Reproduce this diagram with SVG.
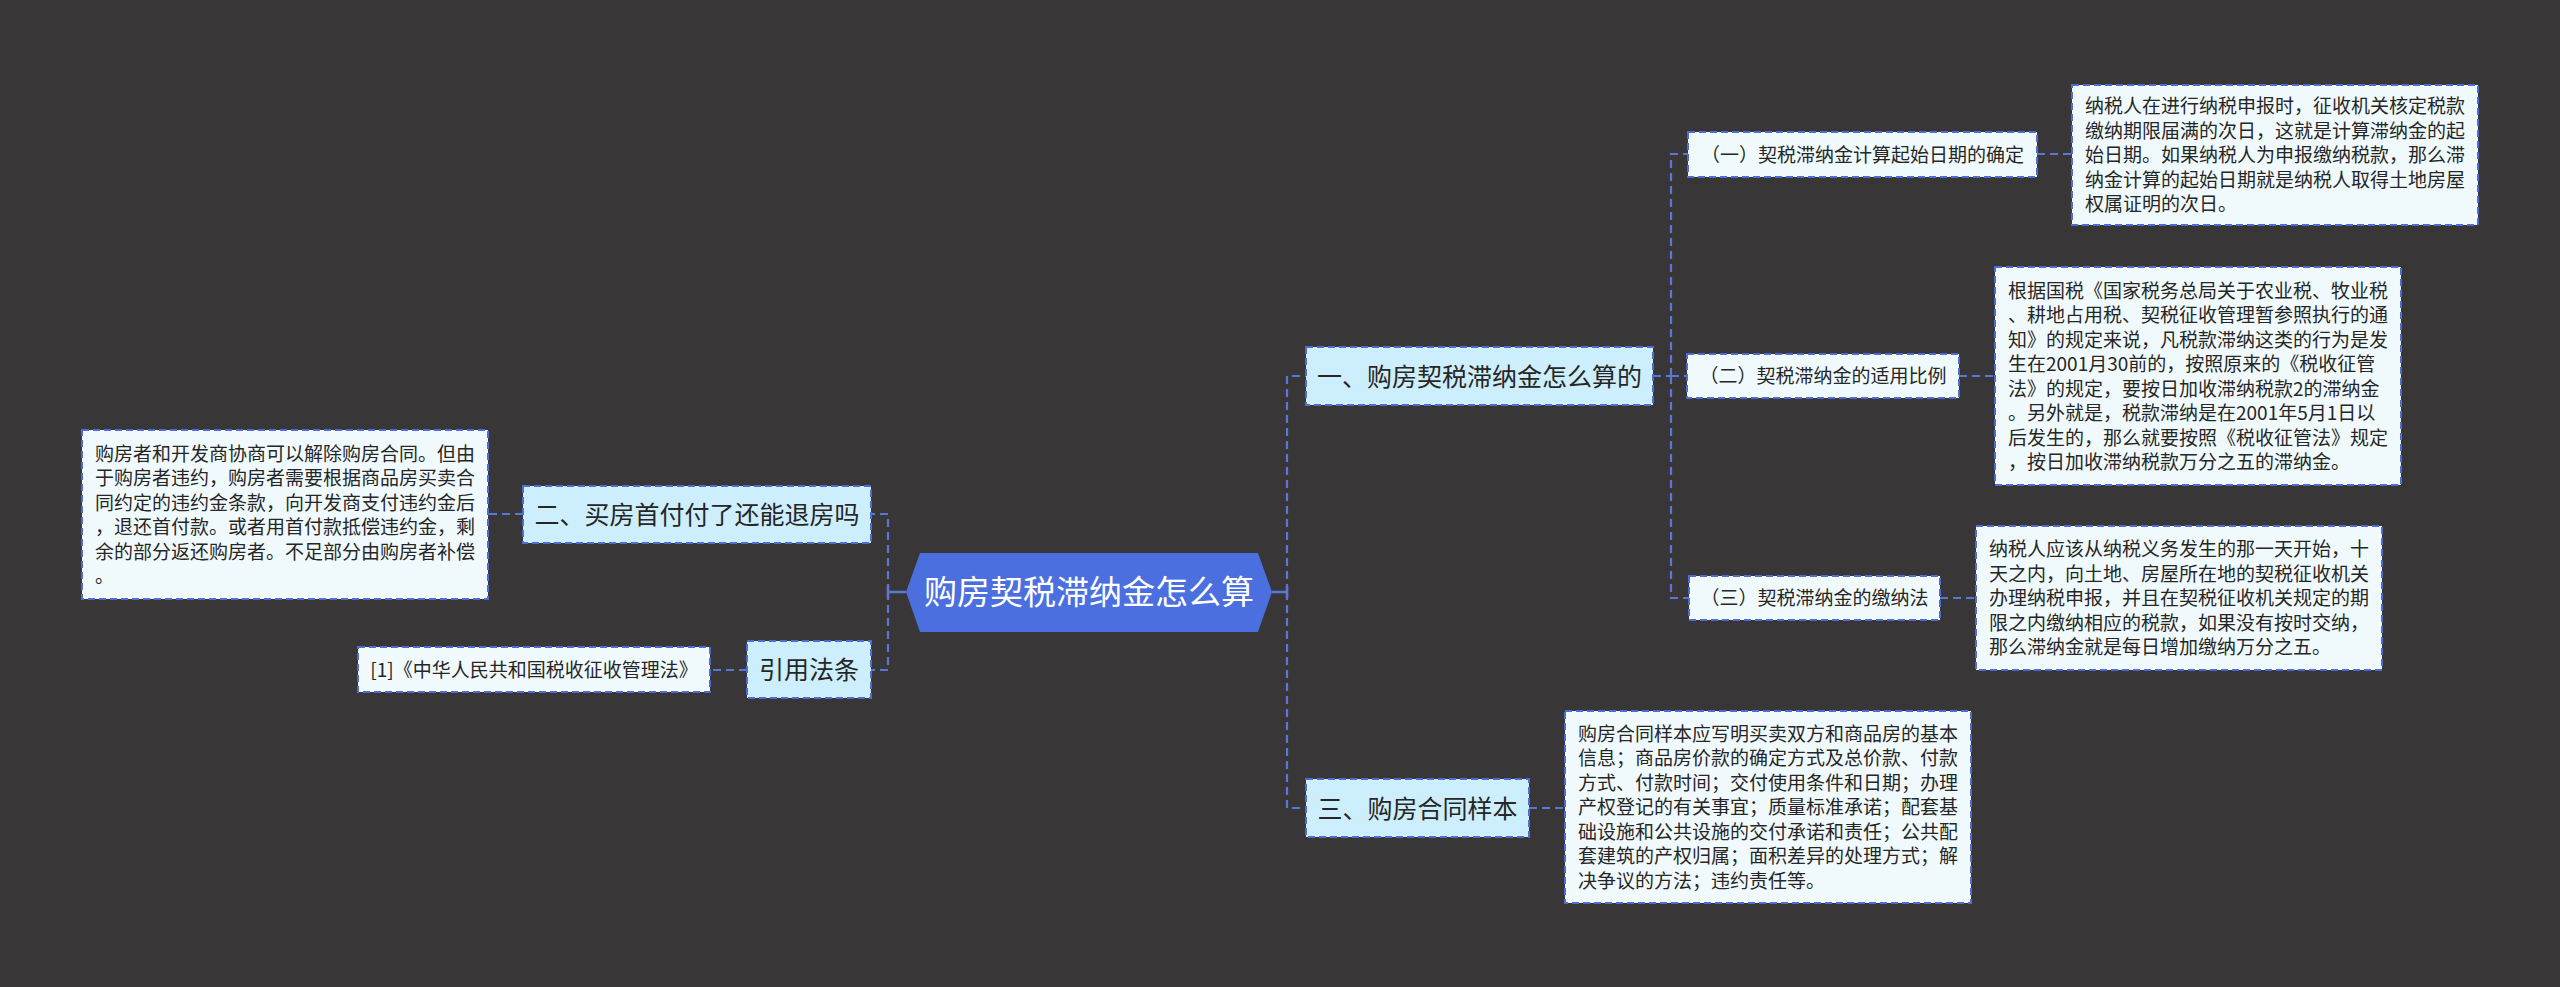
<svg xmlns="http://www.w3.org/2000/svg" width="2560" height="987" viewBox="0 0 2560 987">
<style>
.conn{fill:none;stroke:#5a77d8;stroke-width:2.2;stroke-dasharray:8 5}
.solid{fill:none;stroke:#5a77d8;stroke-width:2.5}
.main{fill:#cdeefc;stroke:#4f6bd6;stroke-width:2;stroke-dasharray:7 4}
.leaf{fill:#f0fafd;stroke:#4f6bd6;stroke-width:2;stroke-dasharray:7 4}
text{font-family:"Noto Sans CJK SC","Noto Sans",sans-serif;fill:#262626}
.t25{font-size:25px}
.t19{font-size:19px}
.c{text-anchor:middle}
</style>
<rect x="0" y="0" width="2560" height="987" fill="#383637"/>
<g id="connectors">
<path class="solid" d="M906,592 H888 M888,586 V598"/>
<path class="solid" d="M1272,592 H1287 M1287,586 V598"/>
<path class="conn" d="M888,592 V514 H871"/>
<path class="conn" d="M888,592 V670 H871"/>
<path class="conn" d="M523,514 H488"/>
<path class="conn" d="M747,670 H710"/>
<path class="conn" d="M1287,592 V376 H1306"/>
<path class="conn" d="M1287,592 V808 H1306"/>
<path class="conn" d="M1529,808 H1565"/>
<path class="conn" d="M1653,376 H1671"/>
<path class="conn" d="M1671,376 V154 H1688"/>
<path class="conn" d="M1671,376 H1687"/>
<path class="conn" d="M1671,376 V598 H1689"/>
<path class="conn" d="M2037,154 H2072"/>
<path class="conn" d="M1959,376 H1995"/>
<path class="conn" d="M1940,598 H1976"/>
</g>
<g id="root">
<polygon points="906,592 920,553 1258,553 1272,592 1258,632 920,632" fill="#4c6fe0"/>
<text x="1089" y="604" class="c" style="font-size:33px;fill:#ffffff">购房契税滞纳金怎么算</text>
</g>
<g id="n1">
<rect class="main" x="1306" y="347" width="347" height="58"/>
<text x="1479.5" y="385.5" class="t25 c">一、购房契税滞纳金怎么算的</text>
</g>
<g id="n1a">
<rect class="leaf" x="1688" y="132" width="349" height="45"/>
<text x="1862.5" y="161.5" class="t19 c">（一）契税滞纳金计算起始日期的确定</text>
</g>
<g id="n1a-d">
<rect class="leaf" x="2072" y="85" width="406" height="140"/>
<text x="2085" y="113.2" class="t19"><tspan x="2085">纳税人在进行纳税申报时，征收机关核定税款</tspan><tspan x="2085" dy="24.5">缴纳期限届满的次日，这就是计算滞纳金的起</tspan><tspan x="2085" dy="24.5">始日期。如果纳税人为申报缴纳税款，那么滞</tspan><tspan x="2085" dy="24.5">纳金计算的起始日期就是纳税人取得土地房屋</tspan><tspan x="2085" dy="24.5">权属证明的次日。</tspan></text>
</g>
<g id="n1b">
<rect class="leaf" x="1687" y="354" width="272" height="44"/>
<text x="1823" y="383.2" class="t19 c">（二）契税滞纳金的适用比例</text>
</g>
<g id="n1b-d">
<rect class="leaf" x="1995" y="267" width="406" height="218"/>
<text x="2008" y="297.5" class="t19"><tspan x="2008">根据国税《国家税务总局关于农业税、牧业税</tspan><tspan x="2008" dy="24.5">、耕地占用税、契税征收管理暂参照执行的通</tspan><tspan x="2008" dy="24.5">知》的规定来说，凡税款滞纳这类的行为是发</tspan><tspan x="2008" dy="24.5">生在2001月30前的，按照原来的《税收征管</tspan><tspan x="2008" dy="24.5">法》的规定，要按日加收滞纳税款2的滞纳金</tspan><tspan x="2008" dy="24.5">。另外就是，税款滞纳是在2001年5月1日以</tspan><tspan x="2008" dy="24.5">后发生的，那么就要按照《税收征管法》规定</tspan><tspan x="2008" dy="24.5">，按日加收滞纳税款万分之五的滞纳金。</tspan></text>
</g>
<g id="n1c">
<rect class="leaf" x="1689" y="576" width="251" height="44"/>
<text x="1814.5" y="605.2" class="t19 c">（三）契税滞纳金的缴纳法</text>
</g>
<g id="n1c-d">
<rect class="leaf" x="1976" y="526" width="406" height="144"/>
<text x="1989" y="556.2" class="t19"><tspan x="1989">纳税人应该从纳税义务发生的那一天开始，十</tspan><tspan x="1989" dy="24.5">天之内，向土地、房屋所在地的契税征收机关</tspan><tspan x="1989" dy="24.5">办理纳税申报，并且在契税征收机关规定的期</tspan><tspan x="1989" dy="24.5">限之内缴纳相应的税款，如果没有按时交纳，</tspan><tspan x="1989" dy="24.5">那么滞纳金就是每日增加缴纳万分之五。</tspan></text>
</g>
<g id="n3">
<rect class="main" x="1306" y="779" width="223" height="58"/>
<text x="1417.5" y="817.5" class="t25 c">三、购房合同样本</text>
</g>
<g id="n3-d">
<rect class="leaf" x="1565" y="711" width="406" height="192"/>
<text x="1578" y="740.7" class="t19"><tspan x="1578">购房合同样本应写明买卖双方和商品房的基本</tspan><tspan x="1578" dy="24.5">信息；商品房价款的确定方式及总价款、付款</tspan><tspan x="1578" dy="24.5">方式、付款时间；交付使用条件和日期；办理</tspan><tspan x="1578" dy="24.5">产权登记的有关事宜；质量标准承诺；配套基</tspan><tspan x="1578" dy="24.5">础设施和公共设施的交付承诺和责任；公共配</tspan><tspan x="1578" dy="24.5">套建筑的产权归属；面积差异的处理方式；解</tspan><tspan x="1578" dy="24.5">决争议的方法；违约责任等。</tspan></text>
</g>
<g id="n2">
<rect class="main" x="523" y="486" width="348" height="57"/>
<text x="697" y="524" class="t25 c">二、买房首付付了还能退房吗</text>
</g>
<g id="n2-d">
<rect class="leaf" x="82" y="430" width="406" height="169"/>
<text x="95" y="460.5" class="t19"><tspan x="95">购房者和开发商协商可以解除购房合同。但由</tspan><tspan x="95" dy="24.5">于购房者违约，购房者需要根据商品房买卖合</tspan><tspan x="95" dy="24.5">同约定的违约金条款，向开发商支付违约金后</tspan><tspan x="95" dy="24.5">，退还首付款。或者用首付款抵偿违约金，剩</tspan><tspan x="95" dy="24.5">余的部分返还购房者。不足部分由购房者补偿</tspan><tspan x="95" dy="24.5">。</tspan></text>
</g>
<g id="n4">
<rect class="main" x="747" y="641" width="124" height="57"/>
<text x="809" y="679" class="t25 c">引用法条</text>
</g>
<g id="n4-d">
<rect class="leaf" x="358" y="647" width="352" height="45"/>
<text x="534" y="676.5" class="t19 c">[1]《中华人民共和国税收征收管理法》</text>
</g>
</svg>
